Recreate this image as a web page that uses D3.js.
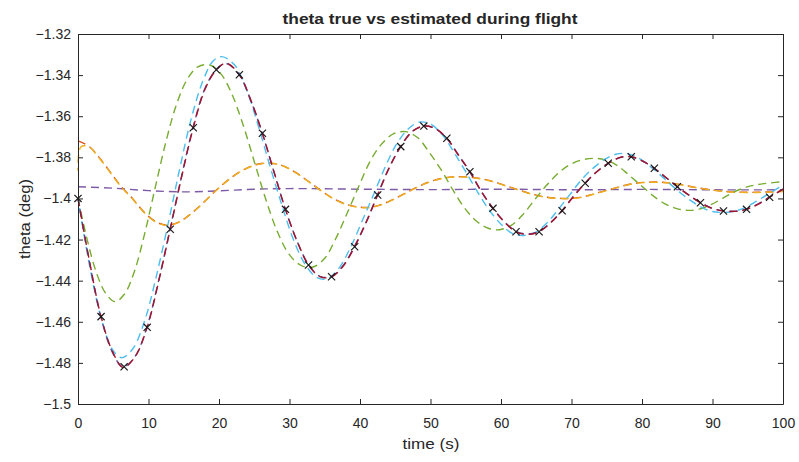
<!DOCTYPE html>
<html>
<head>
<meta charset="utf-8">
<script src="https://cdn.jsdelivr.net/npm/d3@7/dist/d3.min.js"></script>
<style>
  html, body { margin: 0; padding: 0; background: #fff; }
  svg { display: block; }
  text { font-family: Arial, "Liberation Sans", Helvetica, sans-serif; fill: #262626; }
</style>
</head>
<body>
<svg id="chart" width="799" height="462"></svg>
<script>
// ---- axis ticks ----
const xTicks = [0, 10, 20, 30, 40, 50, 60, 70, 80, 90, 100];
const yTicks = [-1.32, -1.34, -1.36, -1.38, -1.4, -1.42, -1.44, -1.46, -1.48, -1.5];
const yTickLabels = ["-1.32", "-1.34", "-1.36", "-1.38", "-1.4", "-1.42", "-1.44", "-1.46", "-1.48", "-1.5"];

// ---- true theta, sampled (x markers) ----
const sampleTime = [0, 3.27, 6.54, 9.81, 13.08, 16.35, 19.62, 22.89, 26.16, 29.43, 32.7, 35.97, 39.24, 42.51, 45.78, 49.05,
  52.32, 55.59, 58.86, 62.13, 65.4, 68.67, 71.94, 75.21, 78.48, 81.75, 85.02, 88.29, 91.56, 94.83, 98.1];
const sampleTheta = [-1.400, -1.4575, -1.4819, -1.4627, -1.4150, -1.3656, -1.3374, -1.3398, -1.3683, -1.4053, -1.4324, -1.4381,
  -1.4235, -1.3983, -1.3748, -1.3648, -1.3707, -1.3870, -1.4048, -1.4162, -1.4162, -1.4060, -1.3926, -1.3829, -1.3797,
  -1.3853, -1.3943, -1.4021, -1.4061, -1.4053, -1.3994];

// ---- true theta, continuous ----
const trueTime = [0, 1.6, 3.27, 4.9, 6.4, 8.1, 9.81, 11.4, 13.08, 14.7, 16.35, 18.0, 19.62, 21.0, 22.89, 24.5, 26.16, 27.8,
  29.43, 31.1, 32.7, 34.4, 35.97, 37.6, 39.24, 40.9, 42.51, 44.1, 45.78, 47.4, 49.05, 50.7, 52.32, 53.9, 55.59, 57.2,
  58.86, 60.5, 62.13, 63.8, 65.4, 67.0, 68.67, 70.3, 71.94, 73.6, 75.21, 76.9, 78.48, 80.1, 81.75, 83.4, 85.02, 86.7,
  88.29, 89.9, 91.56, 93.2, 94.83, 96.5, 98.1, 100];
const trueTheta = [-1.400, -1.430, -1.4575, -1.4745, -1.4822, -1.4770, -1.4627, -1.4410, -1.4150, -1.3895, -1.3656, -1.3470,
  -1.3374, -1.3342, -1.3398, -1.3520, -1.3683, -1.3870, -1.4053, -1.4210, -1.4324, -1.4382, -1.4381, -1.4330, -1.4235,
  -1.4115, -1.3983, -1.3855, -1.3748, -1.3675, -1.3648, -1.3660, -1.3707, -1.3785, -1.3870, -1.3965, -1.4048, -1.4115,
  -1.4162, -1.4175, -1.4162, -1.4120, -1.4060, -1.3990, -1.3926, -1.3870, -1.3829, -1.3800, -1.3797, -1.3818, -1.3853,
  -1.3898, -1.3943, -1.3985, -1.4021, -1.4048, -1.4061, -1.4063, -1.4053, -1.4028, -1.3994, -1.3955];

// ---- estimate A (dark blue-violet), nearly on the true curve ----
const estATheta = [-1.400, -1.4305, -1.4580, -1.4750, -1.4820, -1.4768, -1.4622, -1.4405, -1.4145, -1.3890, -1.3650, -1.3465,
  -1.3372, -1.3343, -1.3400, -1.3523, -1.3686, -1.3872, -1.4054, -1.4210, -1.4322, -1.4380, -1.4379, -1.4327, -1.4232,
  -1.4112, -1.3980, -1.3852, -1.3746, -1.3674, -1.3648, -1.3661, -1.3709, -1.3787, -1.3872, -1.3966, -1.4048, -1.4114,
  -1.4160, -1.4173, -1.4160, -1.4118, -1.4058, -1.3988, -1.3925, -1.3869, -1.3829, -1.3801, -1.3798, -1.3819, -1.3854,
  -1.3899, -1.3943, -1.3985, -1.4020, -1.4047, -1.4060, -1.4062, -1.4052, -1.4027, -1.3993, -1.3955];

// ---- estimate B (light blue), slightly ahead ----
const estBTime = [0, 1.6, 3.27, 4.9, 6.2, 7.8, 9.5, 11.1, 12.8, 14.4, 16.0, 17.7, 19.2, 20.4, 22.2, 23.9, 25.6, 27.2, 28.9,
  30.5, 32.2, 33.9, 35.4, 37.0, 38.7, 40.3, 42.0, 43.6, 45.2, 46.9, 48.5, 50.1, 51.8, 53.4, 55.0, 56.7, 58.3, 60.0, 61.6,
  63.2, 64.9, 66.5, 68.1, 69.8, 71.4, 73.0, 74.7, 76.3, 77.9, 79.6, 81.2, 82.9, 84.5, 86.1, 87.8, 89.4, 91.0, 92.6, 94.3,
  95.9, 97.6, 100];
const estBTheta = [-1.400, -1.432, -1.458, -1.4735, -1.4775, -1.4730, -1.4590, -1.4380, -1.4120, -1.3860, -1.3620, -1.3430,
  -1.3330, -1.3310, -1.3350, -1.3470, -1.3650, -1.3840, -1.4030, -1.4195, -1.4320, -1.4385, -1.4390, -1.4340, -1.4235,
  -1.4110, -1.3975, -1.3845, -1.3735, -1.3660, -1.3628, -1.3640, -1.3695, -1.3780, -1.3870, -1.3970, -1.4055, -1.4125,
  -1.4170, -1.4180, -1.4165, -1.4120, -1.4055, -1.3980, -1.3910, -1.3855, -1.3810, -1.3785, -1.3782, -1.3805, -1.3845,
  -1.3895, -1.3945, -1.3990, -1.4030, -1.4058, -1.4068, -1.4065, -1.4050, -1.4020, -1.3985, -1.3935];

// ---- estimate C (green), shallower first dip and shorter period ----
const estCTime = [0, 1.3, 2.6, 3.9, 5.25, 6.6, 8.0, 9.5, 11.0, 12.5, 14.0, 15.5, 17.0, 18.7, 20.3, 21.8, 23.4, 25.0, 26.6,
  28.2, 29.9, 31.6, 33.2, 34.9, 36.5, 38.2, 39.9, 41.5, 43.2, 44.8, 46.5, 48.2, 49.8, 51.5, 53.2, 54.8, 56.5, 58.2, 59.8,
  61.5, 63.2, 64.8, 66.5, 68.2, 69.8, 71.5, 73.2, 74.8, 76.5, 78.1, 79.8, 81.5, 83.2, 84.8, 86.5, 88.1, 89.8, 91.5, 93.1,
  94.8, 96.5, 98.1, 100];
const estCTheta = [-1.400, -1.420, -1.436, -1.446, -1.4502, -1.4465, -1.4355, -1.4165, -1.3940, -1.3720, -1.3540, -1.3420,
  -1.3360, -1.3351, -1.3395, -1.3490, -1.3640, -1.3820, -1.4000, -1.4155, -1.4270, -1.4325, -1.4335, -1.4295, -1.4200,
  -1.4070, -1.3935, -1.3815, -1.3730, -1.3685, -1.3675, -1.3705, -1.3775, -1.3860, -1.3960, -1.4045, -1.4110, -1.4145,
  -1.4152, -1.4130, -1.4075, -1.4005, -1.3935, -1.3875, -1.3835, -1.3812, -1.3805, -1.3812, -1.3840, -1.3885, -1.3935,
  -1.3985, -1.4025, -1.4048, -1.4058, -1.4052, -1.4030, -1.3998, -1.3968, -1.3945, -1.3932, -1.3925, -1.3918];

// ---- estimates D (orange) and E (yellow), small slow oscillation ----
const estDTime = [0, 1.5, 3.0, 4.7, 6.2, 7.6, 9.2, 10.8, 12.5, 14.3, 16.0, 17.8, 19.6, 21.5, 23.4, 25.3, 27.2, 29.0, 30.8,
  32.6, 34.4, 36.2, 38.0, 39.8, 41.4, 43.0, 44.7, 46.4, 48.1, 49.8, 51.5, 53.2, 55.0, 56.8, 58.6, 60.4, 62.2, 64.0, 65.8,
  67.6, 69.4, 71.2, 73.0, 74.8, 76.6, 78.4, 80.2, 82.0, 83.8, 85.6, 87.4, 89.2, 91.0, 92.8, 94.6, 96.4, 98.2, 100];
const estDTheta = [-1.3720, -1.3745, -1.3800, -1.3878, -1.3945, -1.3995, -1.4060, -1.4108, -1.4130, -1.4115, -1.4075,
  -1.4020, -1.3960, -1.3905, -1.3862, -1.3835, -1.3828, -1.3840, -1.3872, -1.3915, -1.3960, -1.4000, -1.4028, -1.4042,
  -1.4043, -1.4030, -1.4005, -1.3975, -1.3945, -1.3920, -1.3903, -1.3895, -1.3895, -1.3902, -1.3915, -1.3935, -1.3955,
  -1.3975, -1.3990, -1.3998, -1.4000, -1.3995, -1.3980, -1.3962, -1.3945, -1.3930, -1.3922, -1.3920, -1.3924, -1.3933,
  -1.3945, -1.3955, -1.3963, -1.3968, -1.3970, -1.3970, -1.3968, -1.3965];
const estETime = [0, 0.4, 1.5, 3.0, 4.7, 6.2, 7.6, 9.2, 10.8, 12.5, 14.3, 16.0, 17.8, 19.6, 21.5, 23.4, 25.3, 27.2, 29.0,
  30.8, 32.6, 34.4, 36.2, 38.0, 39.8, 41.4, 43.0, 44.7, 46.4, 48.1, 49.8, 51.5, 53.2, 55.0, 56.8, 58.6, 60.4, 62.2, 64.0,
  65.8, 67.6, 69.4, 71.2, 73.0, 74.8, 76.6, 78.4, 80.2, 82.0, 83.8, 85.6, 87.4, 89.2, 91.0, 92.8, 94.6, 96.4, 98.2, 100];
const estETheta = [-1.3865, -1.3750, -1.3748, -1.3803, -1.3880, -1.3947, -1.3997, -1.4062, -1.4110, -1.4131, -1.4116,
  -1.4076, -1.4021, -1.3961, -1.3906, -1.3863, -1.3836, -1.3829, -1.3841, -1.3873, -1.3916, -1.3961, -1.4001, -1.4029,
  -1.4043, -1.4044, -1.4031, -1.4006, -1.3976, -1.3946, -1.3921, -1.3904, -1.3896, -1.3896, -1.3903, -1.3916, -1.3936,
  -1.3956, -1.3976, -1.3991, -1.3999, -1.4001, -1.3996, -1.3981, -1.3963, -1.3946, -1.3931, -1.3923, -1.3921, -1.3925,
  -1.3934, -1.3946, -1.3956, -1.3964, -1.3969, -1.3971, -1.3971, -1.3969, -1.3966];

// ---- estimate F (purple), almost flat ----
const estFTime = [0, 5, 10, 15, 20, 25, 30, 40, 50, 60, 70, 80, 90, 100];
const estFTheta = [-1.3943, -1.3950, -1.3962, -1.3968, -1.3963, -1.3955, -1.3952, -1.3955, -1.3957, -1.3955, -1.3958,
  -1.3956, -1.3958, -1.3958];

const svg = d3.select("#chart");
const x = d3.scaleLinear().domain([0, 100]).range([78, 783]);
const y = d3.scaleLinear().domain([-1.5, -1.32]).range([404, 34]);

const zip = (ts, vs) => ts.map((t, i) => [t, vs[i]]);
const line = d3.line()
  .x(d => x(d[0]))
  .y(d => y(d[1]))
  .curve(d3.curveCatmullRom.alpha(0.5));

const series = [
  { t: estFTime, v: estFTheta, color: "#7E5BA6", off: 0 },
  { t: estDTime, v: estDTheta, color: "#D95319", off: 0 },
  { t: estETime, v: estETheta, color: "#EDB120", off: 5 },
  { t: estCTime, v: estCTheta, color: "#77AC30", off: 0 },
  { t: estBTime, v: estBTheta, color: "#4DBEEE", off: 3 },
  { t: trueTime, v: estATheta, color: "#5A4C8C", off: 2 },
  { t: trueTime, v: trueTheta, color: "#A2142F", off: 0 }
];

const plot = svg.append("g");
series.forEach(s => {
  plot.append("path")
    .datum(zip(s.t, s.v))
    .attr("d", line)
    .attr("fill", "none")
    .attr("stroke", s.color)
    .attr("stroke-width", 1.4)
    .attr("stroke-dasharray", "8,5")
    .attr("stroke-dashoffset", s.off);
});

// x markers on sampled true values
const ms = 3.6;
plot.selectAll("path.mk")
  .data(zip(sampleTime, sampleTheta))
  .join("path")
  .attr("class", "mk")
  .attr("d", d => {
    const cx = x(d[0]), cy = y(d[1]);
    return `M${cx - ms},${cy - ms}L${cx + ms},${cy + ms}M${cx - ms},${cy + ms}L${cx + ms},${cy - ms}`;
  })
  .attr("stroke", "#1a1a1a")
  .attr("stroke-width", 1.2)
  .attr("fill", "none");

// ---- axes (box with inward ticks) ----
function styleAxis(g) {
  g.selectAll("path.domain").attr("stroke", "#262626").attr("stroke-width", 1);
  g.selectAll(".tick line").attr("stroke", "#262626").attr("stroke-width", 1);
  g.selectAll(".tick text").attr("fill", "#262626").style("font-size", "14px")
    .style("font-family", "Arial, 'Liberation Sans', Helvetica, sans-serif");
}

svg.append("g")
  .attr("transform", "translate(0,404)")
  .call(d3.axisBottom(x).tickValues(xTicks).tickFormat(d3.format("d")).tickSizeInner(-5).tickSizeOuter(0).tickPadding(14))
  .call(styleAxis);

svg.append("g")
  .attr("transform", "translate(0,34)")
  .call(d3.axisTop(x).tickValues(xTicks).tickFormat("").tickSizeInner(-5).tickSizeOuter(0))
  .call(styleAxis);

svg.append("g")
  .attr("transform", "translate(78,0)")
  .call(d3.axisLeft(y).tickValues(yTicks)
    .tickFormat((d, i) => yTickLabels[i].replace("-", "\u2212"))
    .tickSizeInner(-5).tickSizeOuter(0).tickPadding(7))
  .call(styleAxis);

svg.append("g")
  .attr("transform", "translate(783,0)")
  .call(d3.axisRight(y).tickValues(yTicks).tickFormat("").tickSizeInner(-5).tickSizeOuter(0))
  .call(styleAxis);

// ---- title and axis labels ----
svg.append("text")
  .attr("x", 430).attr("y", 24)
  .attr("text-anchor", "middle")
  .attr("textLength", 295).attr("lengthAdjust", "spacingAndGlyphs")
  .style("font-size", "15px").style("font-weight", "bold")
  .attr("fill", "#000")
  .text("theta true vs estimated during flight");

svg.append("text")
  .attr("x", 431).attr("y", 449)
  .attr("text-anchor", "middle")
  .attr("textLength", 57).attr("lengthAdjust", "spacingAndGlyphs")
  .style("font-size", "15px")
  .text("time (s)");

svg.append("text")
  .attr("transform", "translate(30,219) rotate(-90)")
  .attr("text-anchor", "middle")
  .attr("textLength", 80).attr("lengthAdjust", "spacingAndGlyphs")
  .style("font-size", "15px")
  .text("theta (deg)");
</script>
</body>
</html>
